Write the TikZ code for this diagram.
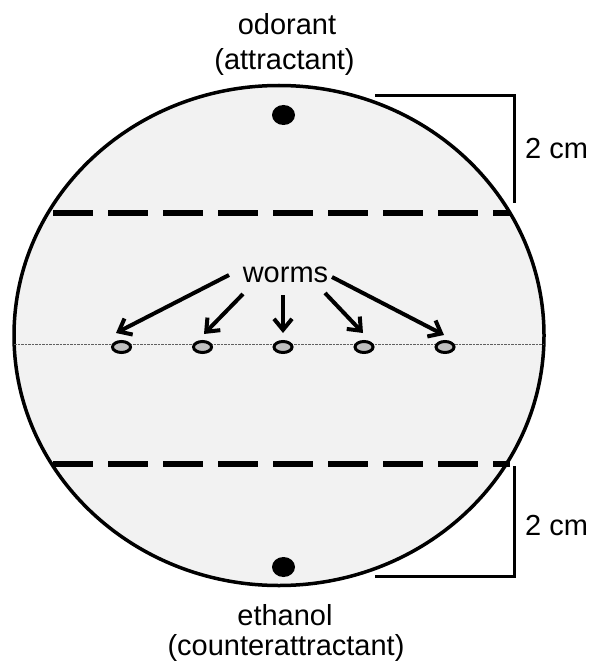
\documentclass[tikz,border=0pt]{standalone}
\usepackage{fontspec}
\setmainfont{Liberation Sans}
\usetikzlibrary{arrows.meta,shapes.geometric}
\definecolor{platefill}{HTML}{F2F2F2}
\definecolor{wormgray}{HTML}{C0C0C0}
\definecolor{midgray}{HTML}{606060}
\begin{document}
\begin{tikzpicture}[x=1pt,y=-1pt,
  lbl/.style={font=\fontsize{29}{33}\selectfont, inner sep=0pt, anchor=base},
  plate/.style={ellipse, draw=black, line width=3.5pt, fill=platefill, inner sep=0pt},
  worm/.style={ellipse, draw=black, line width=3pt, fill=wormgray, minimum width=18pt, minimum height=11pt, inner sep=0pt},
  spot/.style={ellipse, fill=black, minimum width=23pt, minimum height=20pt, inner sep=0pt},
  zone/.style={line width=6pt, dash pattern=on 40pt off 15pt},
  midline/.style={line width=0.9pt, midgray, dash pattern=on 2.5pt off 1pt},
  bracket/.style={line width=3pt},
  warrow/.style={line width=4pt, -{Straight Barb[length=11pt,width=18pt]}}
]
\useasboundingbox (0,0) rectangle (591,663);

% plate
\node[plate, minimum width=530pt, minimum height=500pt] (dish) at (279,335.5) {};

% midline
\coordinate (ml) at (14,344);
\coordinate (mr) at (544,344);
\draw[midline] (ml) -- (mr);

% zone lines
\coordinate (zt1) at (53,213);
\coordinate (zt2) at (510,213);
\coordinate (zb1) at (53,464);
\coordinate (zb2) at (510,464);
\draw[zone] (zt1) -- (zt2);
\draw[zone] (zb1) -- (zb2);

% worms
\node[worm] (w1) at (121.5,347) {};
\node[worm] (w2) at (202.5,347) {};
\node[worm] (w3) at (283,347) {};
\node[worm] (w4) at (364,347) {};
\node[worm] (w5) at (445,347) {};

% spots
\node[spot] (odor) at (283.5,115) {};
\node[spot] (eth) at (283.5,567) {};

% labels
\node[lbl] (t1) at (287,35) {odorant};
\node[lbl] (t2) at (284.5,70) {(attractant)};
\node[lbl] (t3) at (285,625) {ethanol};
\node[lbl] (t4) at (286,655) {(counterattractant)};
\node[lbl] (wl) at (285.5,282) {worms};
\node[lbl, anchor=base west] (c1) at (525,158) {2 cm};
\node[lbl, anchor=base west] (c2) at (525,535) {2 cm};

% arrows
\coordinate (a1s) at (229,275);  \coordinate (a1e) at (116,333);
\coordinate (a2s) at (243,294);  \coordinate (a2e) at (204,334);
\coordinate (a3s) at (283,295);  \coordinate (a3e) at (283,333);
\coordinate (a4s) at (325,293);  \coordinate (a4e) at (363,333);
\coordinate (a5s) at (332,277);  \coordinate (a5e) at (444,335);
\draw[warrow] (a1s) -- (a1e);
\draw[warrow] (a2s) -- (a2e);
\draw[warrow] (a3s) -- (a3e);
\draw[warrow] (a4s) -- (a4e);
\draw[warrow] (a5s) -- (a5e);

% brackets
\coordinate (b1a) at (375,96);
\coordinate (b1b) at (514,96);
\coordinate (b1c) at (514,203);
\coordinate (b2a) at (514,466);
\coordinate (b2b) at (514,576);
\coordinate (b2c) at (375,576);
\draw[bracket] (b1a) -- (b1b) -- (b1c);
\draw[bracket] (b2a) -- (b2b) -- (b2c);
\end{tikzpicture}
\end{document}
